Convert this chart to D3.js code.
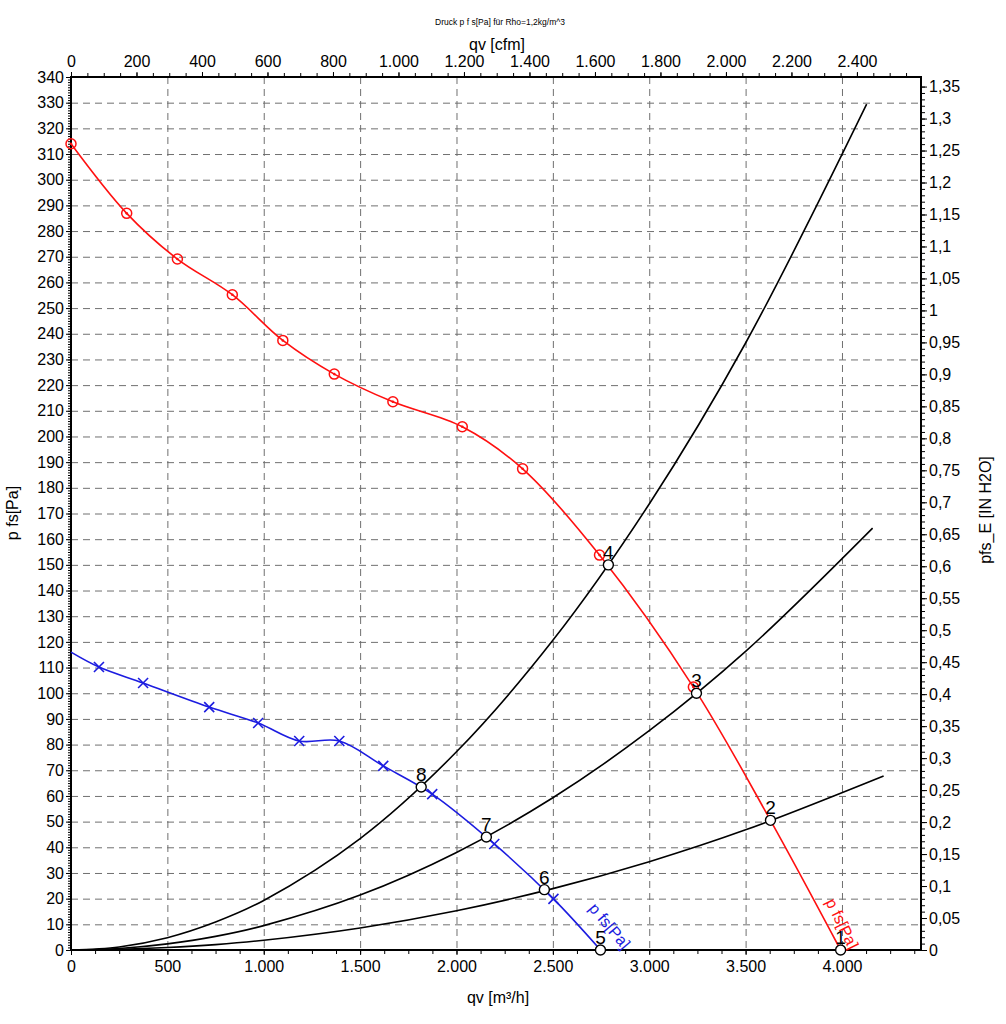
<!DOCTYPE html>
<html>
<head>
<meta charset="utf-8">
<script src="https://cdn.jsdelivr.net/npm/d3@7"></script>
<style>
  html, body { margin: 0; padding: 0; background: #fff; }
  svg { display: block; font-family: "Liberation Sans", Arial, sans-serif; }
</style>
</head>
<body>
<svg id="chart" width="1006" height="1024"></svg>
<script>
// ---- data ----
const titleText = "Druck p f s[Pa] für Rho=1,2kg/m^3";

// fan curve 1 (red), qv [m³/h] and p fs [Pa]
const redQv = [0, 289, 552, 837, 1099, 1366, 1670, 2030, 2343, 2742, 3229, 3629, 3993];
const redP  = [314, 286.9, 269.1, 255.2, 237.4, 224.3, 213.5, 203.8, 187.4, 153.8, 102.4, 50.5, 0];
const redMarkerCount = 11;

// fan curve 2 (blue)
const blueQv = [0, 145, 374, 717, 971, 1184, 1392, 1620, 1874, 2196, 2503, 2747];
const blueP  = [116, 110.2, 104, 94.6, 88.4, 81.4, 81.4, 71.7, 60.7, 41.3, 19.9, 0];
const blueMarkerIdx = [1, 2, 3, 4, 5, 6, 7, 8, 9, 10];

// system curves (black)
const sysAQv = [0, 250, 500, 750, 1000, 1500, 2000, 2500, 3000, 3500, 4128];
const sysAP  = [0, 1.2, 4.8, 10.9, 19.3, 43.4, 77.2, 120.6, 173.7, 236.4, 329.4];
const sysBQv = [0, 250, 500, 750, 1000, 1500, 2000, 2500, 3000, 3500, 4159];
const sysBP  = [0, 0.6, 2.4, 5.3, 9.5, 21.4, 38, 59.3, 85.4, 116.3, 164.3];
const sysCQv = [0, 250, 500, 750, 1000, 1500, 2000, 2500, 3000, 3500, 4216];
const sysCP  = [0, 0.24, 0.95, 2.1, 3.8, 8.6, 15.3, 23.9, 34.4, 46.8, 67.8];

// operating points
const opLabels = ["1", "2", "3", "4", "5", "6", "7", "8"];
const opQv = [3993, 3629, 3245, 2788, 2747, 2456, 2155, 1817];
const opP  = [0, 50.5, 100, 150, 0, 23.5, 44, 63.5];

// axis ticks
const qvTicks = [0, 500, 1000, 1500, 2000, 2500, 3000, 3500, 4000];
const cfmTicks = [0, 200, 400, 600, 800, 1000, 1200, 1400, 1600, 1800, 2000, 2200, 2400];
const paTicks = d3.range(0, 341, 10);
const inH2OTicks = ["0","0,05","0,1","0,15","0,2","0,25","0,3","0,35","0,4","0,45","0,5","0,55","0,6","0,65","0,7","0,75","0,8","0,85","0,9","0,95","1","1,05","1,1","1,15","1,2","1,25","1,3","1,35"];

// ---- layout ----
const L = 71, R = 921, T = 77, B = 950;
const M3H_PER_CFM = 1.69901;
const PA_PER_INH2O = 249.089;
const qvMax = 4410, pMax = 340;

const svg = d3.select("#chart");
const x = d3.scaleLinear().domain([0, qvMax]).range([L, R]);
const y = d3.scaleLinear().domain([0, pMax]).range([B, T]);
const xCfm = d3.scaleLinear().domain([0, qvMax / M3H_PER_CFM]).range([L, R]);
const yIn = d3.scaleLinear().domain([0, pMax / PA_PER_INH2O]).range([B, T]);

const de = d3.formatLocale({decimal: ",", thousands: ".", grouping: [3], currency: ["", " €"]});
const fmtInt = de.format(",d");

// ---- grid ----
const grid = svg.append("g").attr("stroke", "#707070").attr("stroke-width", 1).attr("stroke-dasharray", "7,5");
grid.selectAll("line.h").data(paTicks.filter(v => v > 0 && v < 340)).join("line")
  .attr("x1", L).attr("x2", R).attr("y1", d => y(d) + 0.5).attr("y2", d => y(d) + 0.5);
grid.selectAll("line.v").data(qvTicks.filter(v => v > 0)).join("line")
  .attr("y1", T).attr("y2", B).attr("x1", d => x(d) + 0.5).attr("x2", d => x(d) + 0.5);

// ---- axes ----
function styleAxis(g, fontSize) {
  g.select(".domain").remove();
  g.selectAll(".tick line").attr("stroke", "#000").attr("stroke-width", 1);
  g.selectAll(".tick text").attr("fill", "#000").attr("font-size", fontSize)
    .attr("font-family", "'Liberation Sans', Arial, sans-serif");
}
// bottom
svg.append("g").attr("transform", `translate(0,${B})`)
  .call(d3.axisBottom(x).tickValues(d3.range(0, qvMax, 125)).tickSize(4).tickFormat(""))
  .call(g => styleAxis(g, 16));
svg.append("g").attr("transform", `translate(0,${B})`)
  .call(d3.axisBottom(x).tickValues(qvTicks).tickSize(5).tickPadding(6).tickFormat(fmtInt))
  .call(g => styleAxis(g, 16));
// top
svg.append("g").attr("transform", `translate(0,${T})`)
  .call(d3.axisTop(xCfm).tickValues(d3.range(0, qvMax / M3H_PER_CFM, 50)).tickSize(4).tickFormat(""))
  .call(g => styleAxis(g, 16));
svg.append("g").attr("transform", `translate(0,${T})`)
  .call(d3.axisTop(xCfm).tickValues(cfmTicks).tickSize(5).tickPadding(5).tickFormat(fmtInt))
  .call(g => styleAxis(g, 16));
// left
svg.append("g").attr("transform", `translate(${L},0)`)
  .call(d3.axisLeft(y).tickValues(d3.range(0, 341, 1)).tickSize(3).tickFormat(""))
  .call(g => styleAxis(g, 16));
svg.append("g").attr("transform", `translate(${L},0)`)
  .call(d3.axisLeft(y).tickValues(paTicks).tickSize(5).tickPadding(2).tickFormat(d => String(d)))
  .call(g => styleAxis(g, 16));
// right
const inVals = inH2OTicks.map(s => +s.replace(",", "."));
svg.append("g").attr("transform", `translate(${R},0)`)
  .call(d3.axisRight(yIn).tickValues(d3.range(0, 136).map(i => i / 100)).tickSize(4).tickFormat(""))
  .call(g => styleAxis(g, 16));
svg.append("g").attr("transform", `translate(${R},0)`)
  .call(d3.axisRight(yIn).tickValues(inVals).tickSize(6).tickPadding(2).tickFormat((d, i) => inH2OTicks[i]))
  .call(g => styleAxis(g, 16));

// frame
svg.append("rect").attr("x", L).attr("y", T).attr("width", R - L).attr("height", B - T)
  .attr("fill", "none").attr("stroke", "#000").attr("stroke-width", 2);

// ---- titles ----
svg.append("text").attr("x", 500).attr("y", 25).attr("text-anchor", "middle")
  .attr("font-size", 8.5).text(titleText);
svg.append("text").attr("x", 497).attr("y", 50).attr("text-anchor", "middle")
  .attr("font-size", 16).text("qv [cfm]");
svg.append("text").attr("x", 498).attr("y", 1003).attr("text-anchor", "middle")
  .attr("font-size", 16).text("qv [m³/h]");
svg.append("text").attr("transform", "translate(18,513) rotate(-90)").attr("text-anchor", "middle")
  .attr("font-size", 16).text("p fs[Pa]");
svg.append("text").attr("transform", "translate(991,510) rotate(-90)").attr("text-anchor", "middle")
  .attr("font-size", 16).text("pfs_E [IN H2O]");

// ---- curves ----
const line = d3.line().x(d => x(d[0])).y(d => y(d[1])).curve(d3.curveCatmullRom.alpha(0.5));
const zip = (a, b) => a.map((v, i) => [v, b[i]]);

[[sysAQv, sysAP], [sysBQv, sysBP], [sysCQv, sysCP]].forEach(([q, p]) => {
  svg.append("path").datum(zip(q, p)).attr("d", line)
    .attr("fill", "none").attr("stroke", "#000").attr("stroke-width", 1.6);
});

const redColor = "#ff1010", blueColor = "#1c1ce0";
svg.append("path").datum(zip(redQv, redP)).attr("d", line)
  .attr("fill", "none").attr("stroke", redColor).attr("stroke-width", 1.6);
svg.append("path").datum(zip(blueQv, blueP)).attr("d", line)
  .attr("fill", "none").attr("stroke", blueColor).attr("stroke-width", 1.6);

// red markers
const redPts = zip(redQv, redP).slice(0, redMarkerCount);
svg.append("g").selectAll("circle").data(redPts).join("circle")
  .attr("cx", d => x(d[0])).attr("cy", d => y(d[1])).attr("r", 5)
  .attr("fill", "none").attr("stroke", redColor).attr("stroke-width", 1.5);
svg.append("g").selectAll("circle").data(redPts).join("circle")
  .attr("cx", d => x(d[0])).attr("cy", d => y(d[1])).attr("r", 1.3).attr("fill", redColor);

// blue X markers
svg.append("g").selectAll("path").data(blueMarkerIdx.map(i => [blueQv[i], blueP[i]])).join("path")
  .attr("d", d => {
    const cx = x(d[0]), cy = y(d[1]), s = 5;
    return `M${cx - s},${cy - s}L${cx + s},${cy + s}M${cx - s},${cy + s}L${cx + s},${cy - s}`;
  })
  .attr("stroke", blueColor).attr("stroke-width", 1.6).attr("fill", "none");

// curve labels
svg.append("text").attr("transform", `translate(${x(2790)},${y(9)}) rotate(50)`)
  .attr("text-anchor", "middle").attr("dominant-baseline", "middle")
  .attr("font-size", 16).attr("fill", blueColor).text("p fs[Pa]");
svg.append("text").attr("transform", `translate(${x(3995)},${y(10)}) rotate(64)`)
  .attr("text-anchor", "middle").attr("dominant-baseline", "middle")
  .attr("font-size", 16).attr("fill", redColor).text("p fs[Pa]");

// operating points
const ops = opLabels.map((l, i) => ({l, q: opQv[i], p: opP[i]}));
svg.append("g").selectAll("circle").data(ops).join("circle")
  .attr("cx", d => x(d.q)).attr("cy", d => y(d.p)).attr("r", 5)
  .attr("fill", "#fff").attr("stroke", "#000").attr("stroke-width", 1.4);
svg.append("g").selectAll("text").data(ops).join("text")
  .attr("x", d => x(d.q)).attr("y", d => y(d.p) - 6)
  .attr("text-anchor", "middle").attr("font-size", 19).attr("fill", "#000")
  .text(d => d.l);
</script>
</body>
</html>
